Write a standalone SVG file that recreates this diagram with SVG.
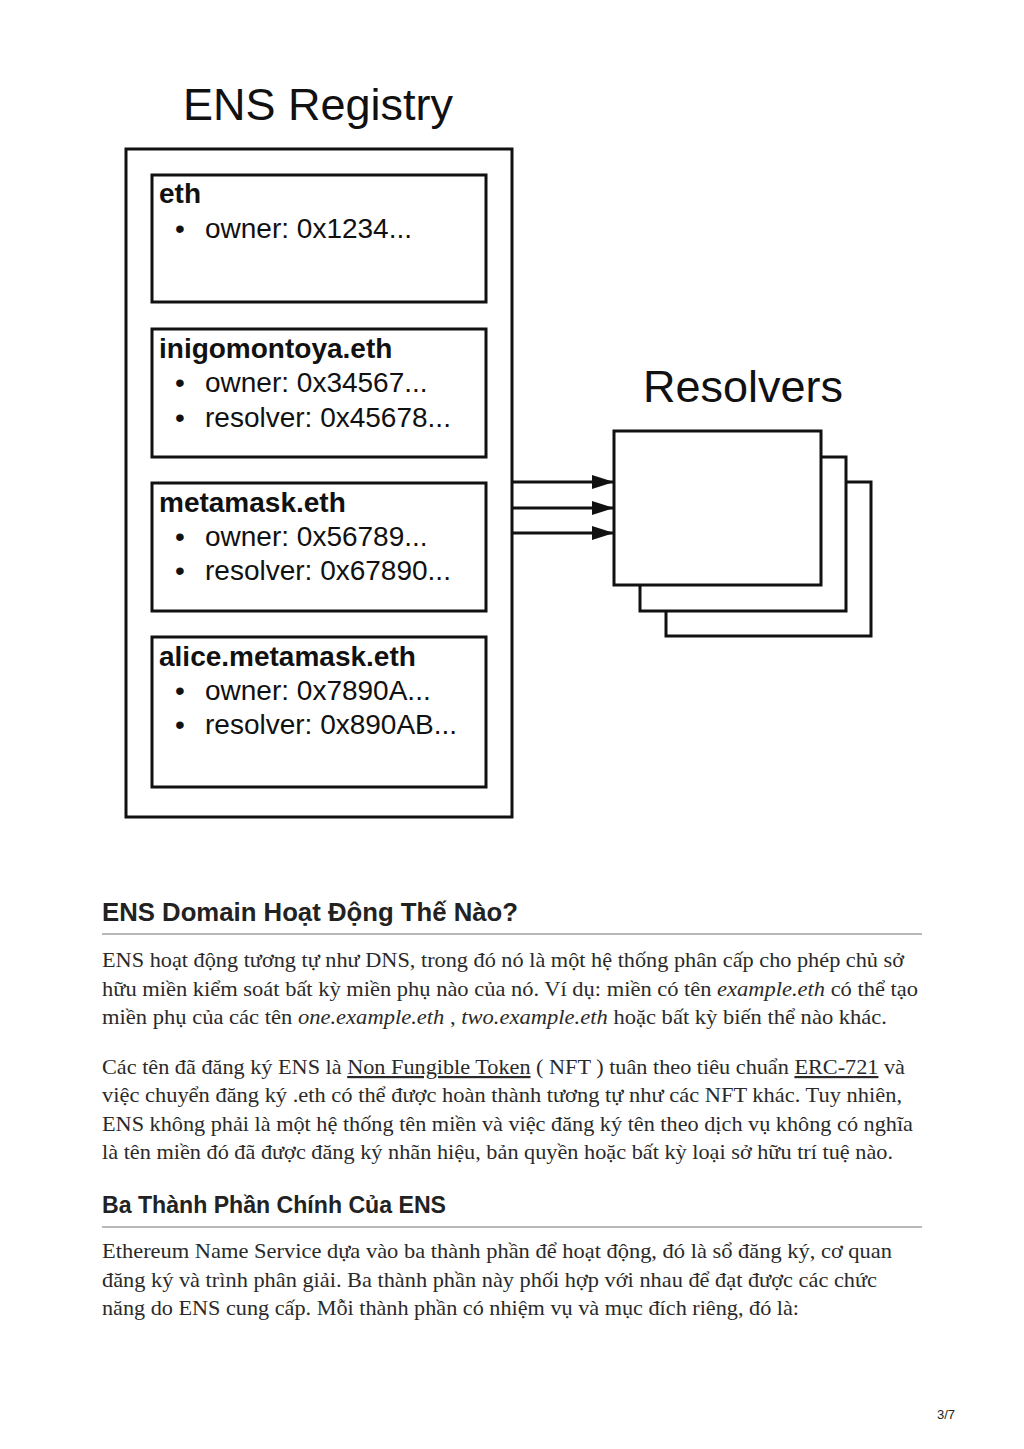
<svg xmlns="http://www.w3.org/2000/svg" width="1024" height="1449" viewBox="0 0 1024 1449">
<defs>
<style>
.bx{fill:#fff;stroke:#111;stroke-width:3}
.rb{fill:#fff;stroke:#111;stroke-width:3}
.ttl{font-family:"Liberation Sans",Arial,sans-serif;font-size:45px;fill:#111}
.hd{font-family:"Liberation Sans",Arial,sans-serif;font-size:28px;font-weight:bold;fill:#111}
.it{font-family:"Liberation Sans",Arial,sans-serif;font-size:28px;fill:#111}
.h2{font-family:"Liberation Sans",Arial,sans-serif;font-weight:bold;fill:#222}
.p{font-family:"Liberation Serif","Times New Roman",serif;font-size:22px;fill:#2a2a2a}
.u{text-decoration:underline}
.i{font-style:italic}
.rule{stroke:#a0a0a0;stroke-width:1.5}
.conn{stroke:#111;stroke-width:3;fill:none}
</style>
<marker id="ah" markerWidth="22" markerHeight="14" refX="22" refY="7" orient="auto" markerUnits="userSpaceOnUse">
<polygon points="0,0 22,7 0,14" fill="#111"/>
</marker>
</defs>
<rect width="1024" height="1449" fill="#fff"/>

<g id="registry">
<text class="ttl" x="183" y="120">ENS Registry</text>
<rect class="bx" x="126" y="149" width="386" height="668"/>
</g>

<g id="node-eth">
<rect class="bx" x="152" y="175" width="334" height="127"/>
<text class="hd" x="159" y="203">eth</text>
<text class="it" x="175" y="238">•<tspan x="205">owner: 0x1234...</tspan></text>
</g>

<g id="node-inigomontoya">
<rect class="bx" x="152" y="329" width="334" height="128"/>
<text class="hd" x="159" y="358">inigomontoya.eth</text>
<text class="it" x="175" y="392">•<tspan x="205">owner: 0x34567...</tspan></text>
<text class="it" x="175" y="427">•<tspan x="205">resolver: 0x45678...</tspan></text>
</g>

<g id="node-metamask">
<rect class="bx" x="152" y="483" width="334" height="128"/>
<text class="hd" x="159" y="512">metamask.eth</text>
<text class="it" x="175" y="546">•<tspan x="205">owner: 0x56789...</tspan></text>
<text class="it" x="175" y="580">•<tspan x="205">resolver: 0x67890...</tspan></text>
</g>

<g id="node-alice">
<rect class="bx" x="152" y="637" width="334" height="150"/>
<text class="hd" x="159" y="666">alice.metamask.eth</text>
<text class="it" x="175" y="700">•<tspan x="205">owner: 0x7890A...</tspan></text>
<text class="it" x="175" y="734">•<tspan x="205">resolver: 0x890AB...</tspan></text>
</g>

<g id="resolvers">
<text class="ttl" x="643" y="402">Resolvers</text>
<rect class="rb" x="666" y="482" width="205" height="154"/>
<rect class="rb" x="640" y="457" width="206" height="154"/>
<rect class="rb" x="614" y="431" width="207" height="154"/>
</g>

<g id="connectors">
<line class="conn" x1="513" y1="482" x2="614" y2="482" marker-end="url(#ah)"/>
<line class="conn" x1="513" y1="508" x2="614" y2="508" marker-end="url(#ah)"/>
<line class="conn" x1="513" y1="533" x2="614" y2="533" marker-end="url(#ah)"/>
</g>

<g id="text-section">
<text class="h2" x="102" y="921" font-size="26" textLength="416" lengthAdjust="spacingAndGlyphs">ENS Domain Hoạt Động Thế Nào?</text>
<line class="rule" x1="102" y1="934" x2="922" y2="934"/>
<text class="p" x="102" y="967" textLength="802" lengthAdjust="spacingAndGlyphs">ENS hoạt động tương tự như DNS, trong đó nó là một hệ thống phân cấp cho phép chủ sở</text>
<text class="p" x="102" y="996" textLength="816" lengthAdjust="spacingAndGlyphs">hữu miền kiểm soát bất kỳ miền phụ nào của nó. Ví dụ: miền có tên <tspan class="i">example.eth</tspan>  có thể tạo</text>
<text class="p" x="102" y="1024" textLength="785" lengthAdjust="spacingAndGlyphs">miền phụ của các tên <tspan class="i">one.example.eth</tspan> , <tspan class="i">two.example.eth</tspan> hoặc bất kỳ biến thể nào khác.</text>

<text class="p" x="102" y="1074" textLength="803" lengthAdjust="spacingAndGlyphs">Các tên đã đăng ký ENS là <tspan class="u">Non Fungible Token</tspan> ( NFT ) tuân theo tiêu chuẩn <tspan class="u">ERC-721</tspan> và</text>
<text class="p" x="102" y="1102" textLength="800" lengthAdjust="spacingAndGlyphs">việc chuyển đăng ký .eth có thể được hoàn thành tương tự như các NFT khác. Tuy nhiên,</text>
<text class="p" x="102" y="1131" textLength="811" lengthAdjust="spacingAndGlyphs">ENS không phải là một hệ thống tên miền và việc đăng ký tên theo dịch vụ không có nghĩa</text>
<text class="p" x="102" y="1159" textLength="791" lengthAdjust="spacingAndGlyphs">là tên miền đó đã được đăng ký nhãn hiệu, bản quyền hoặc bất kỳ loại sở hữu trí tuệ nào.</text>

<text class="h2" x="102" y="1213" font-size="23" textLength="344" lengthAdjust="spacingAndGlyphs">Ba Thành Phần Chính Của ENS</text>
<line class="rule" x1="102" y1="1227" x2="922" y2="1227"/>
<text class="p" x="102" y="1258" textLength="790" lengthAdjust="spacingAndGlyphs">Ethereum Name Service dựa vào ba thành phần để hoạt động, đó là sổ đăng ký, cơ quan</text>
<text class="p" x="102" y="1287" textLength="775" lengthAdjust="spacingAndGlyphs">đăng ký và trình phân giải. Ba thành phần này phối hợp với nhau để đạt được các chức</text>
<text class="p" x="102" y="1315" textLength="697" lengthAdjust="spacingAndGlyphs">năng do ENS cung cấp. Mỗi thành phần có nhiệm vụ và mục đích riêng, đó là:</text>

<text x="937" y="1419" font-family="Liberation Sans,Arial,sans-serif" font-size="13" fill="#222">3/7</text>
</g>
</svg>
